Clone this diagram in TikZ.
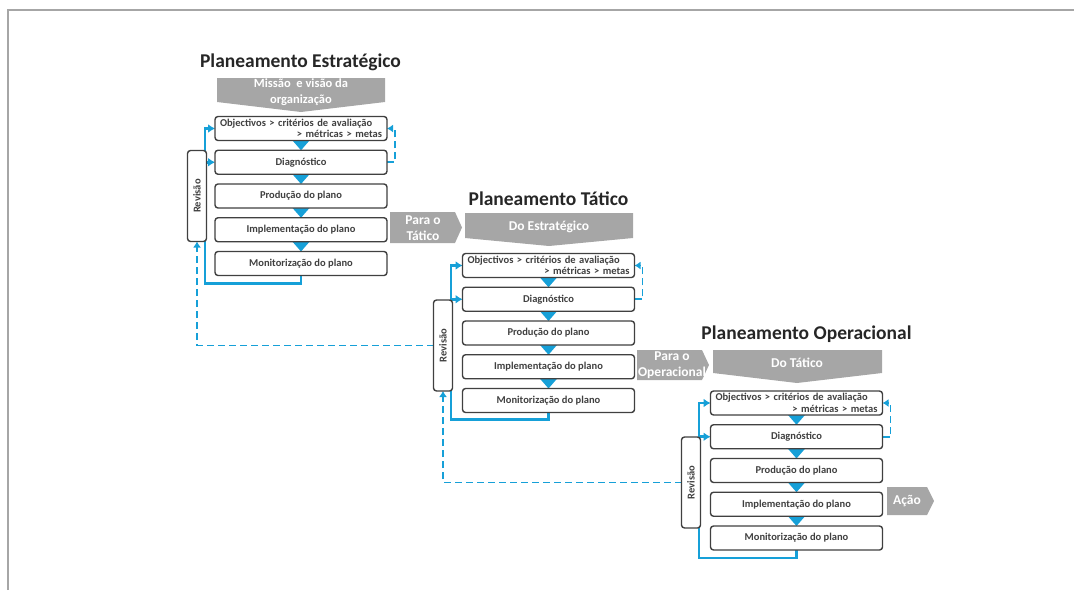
\documentclass[tikz,border=0pt]{standalone}
\usepackage{fontspec}
\setmainfont{Carlito}
\usepackage{graphicx}
\usetikzlibrary{positioning,backgrounds,arrows.meta}
\definecolor{azul}{RGB}{22,160,216}
\definecolor{cinza}{RGB}{166,166,166}
\definecolor{escuro}{RGB}{64,64,64}
\begin{document}
\begin{tikzpicture}[x=1pt,y=-1pt,node distance=9.75pt,every node/.style={inner sep=1pt}]
\tikzstyle{etapa}=[draw=escuro,line width=1.4pt,rounded corners=3pt,fill=white,outer sep=0pt,minimum width=172pt,minimum height=24pt,text=escuro,font=\fontsize{10.5}{11.5}\selectfont\bfseries]
\tikzstyle{revisao}=[etapa,minimum width=19pt,minimum height=91pt]
\tikzstyle{titulo}=[text=black!85,font=\fontsize{19.5}{22}\selectfont\bfseries]
\tikzstyle{rotulo}=[text=white,align=center,font=\fontsize{13.5}{16}\selectfont\bfseries]
\tikzstyle{fluxo}=[draw=azul,line width=2.7pt,-{Latex[length=7pt,width=9pt]}]
\tikzstyle{retorno}=[draw=azul,line width=1.7pt,dash pattern=on 7pt off 4pt,-{Latex[length=6pt,width=8pt]}]
\useasboundingbox (0,0) rectangle (1074,590);
\draw[cinza,line width=1.5pt] (8,590) -- (8,10) -- (1074,10);

% estrategico
\node[titulo](t1) at (300.5,62){Planeamento Estratégico};
\fill[cinza] (217,78) -- (385,78) -- (385,102) -- (301,112) -- (217,102) -- cycle;
\node[rotulo,font=\fontsize{12.5}{16}\selectfont\bfseries](g1) at (301,92){Missão~ e visão da\\organização};
\node[etapa,text width=162pt,align=left](n11) at (301,128.5){Objectivos > critérios de avaliação\\\hspace*{0pt plus 1fill}> métricas > metas};
\node[etapa,below=of n11](n12){Diagnóstico};
\node[etapa,below=of n12](n13){Produção do plano};
\node[etapa,below=of n13](n14){Implementação do plano};
\node[etapa,below=of n14](n15){Monitorização do plano};
\node[revisao](r1) at (197,196){\rotatebox{90}{Revisão}};
\fill[cinza] (390,212) -- (455,212) -- (462,227.5) -- (455,243) -- (390,243) -- cycle;
\node[rotulo](p1) at (423,228){Para o\\Tático};

% tatico
\node[titulo](t2) at (548.5,199){Planeamento Tático};
\fill[cinza] (465,213) -- (633,213) -- (633,238) -- (549,246) -- (465,238) -- cycle;
\node[rotulo](g2) at (549,227){Do Estratégico};
\node[etapa,text width=162pt,align=left](n21) at (548.5,265.5){Objectivos > critérios de avaliação\\\hspace*{0pt plus 1fill}> métricas > metas};
\node[etapa,below=of n21](n22){Diagnóstico};
\node[etapa,below=of n22](n23){Produção do plano};
\node[etapa,below=of n23](n24){Implementação do plano};
\node[etapa,below=of n24](n25){Monitorização do plano};
\node[revisao](r2) at (443,345.5){\rotatebox{90}{Revisão}};
\fill[cinza] (637,350) -- (702,350) -- (709,365) -- (702,380) -- (637,380) -- cycle;
\node[rotulo](p2) at (672,365){Para o\\Operacional};

% operacional
\node[titulo](t3) at (806.5,334){Planeamento Operacional};
\fill[cinza] (713,350) -- (882,350) -- (882,373) -- (797,383) -- (713,373) -- cycle;
\node[rotulo](g3) at (797,363){Do Tático};
\node[etapa,text width=162pt,align=left](n31) at (796.5,403){Objectivos > critérios de avaliação\\\hspace*{0pt plus 1fill}> métricas > metas};
\node[etapa,below=of n31](n32){Diagnóstico};
\node[etapa,below=of n32](n33){Produção do plano};
\node[etapa,below=of n33](n34){Implementação do plano};
\node[etapa,below=of n34](n35){Monitorização do plano};
\node[revisao](r3) at (691,482.5){\rotatebox{90}{Revisão}};
\fill[cinza] (887,487) -- (927,487) -- (934,501) -- (927,515) -- (887,515) -- cycle;
\node[rotulo](p3) at (907,501){Ação};

% ligacoes
\begin{scope}[on background layer]
\fill[azul] ([xshift=-8.5pt]n11.south) -- ([xshift=8.5pt]n11.south) -- (n12.north) -- cycle;
\fill[azul] ([xshift=-8.5pt]n12.south) -- ([xshift=8.5pt]n12.south) -- (n13.north) -- cycle;
\fill[azul] ([xshift=-8.5pt]n13.south) -- ([xshift=8.5pt]n13.south) -- (n14.north) -- cycle;
\fill[azul] ([xshift=-8.5pt]n14.south) -- ([xshift=8.5pt]n14.south) -- (n15.north) -- cycle;
\fill[azul] ([xshift=-8.5pt]n21.south) -- ([xshift=8.5pt]n21.south) -- (n22.north) -- cycle;
\fill[azul] ([xshift=-8.5pt]n22.south) -- ([xshift=8.5pt]n22.south) -- (n23.north) -- cycle;
\fill[azul] ([xshift=-8.5pt]n23.south) -- ([xshift=8.5pt]n23.south) -- (n24.north) -- cycle;
\fill[azul] ([xshift=-8.5pt]n24.south) -- ([xshift=8.5pt]n24.south) -- (n25.north) -- cycle;
\fill[azul] ([xshift=-8.5pt]n31.south) -- ([xshift=8.5pt]n31.south) -- (n32.north) -- cycle;
\fill[azul] ([xshift=-8.5pt]n32.south) -- ([xshift=8.5pt]n32.south) -- (n33.north) -- cycle;
\fill[azul] ([xshift=-8.5pt]n33.south) -- ([xshift=8.5pt]n33.south) -- (n34.north) -- cycle;
\fill[azul] ([xshift=-8.5pt]n34.south) -- ([xshift=8.5pt]n34.south) -- (n35.north) -- cycle;

\draw[fluxo] (n15.south) -- ++(0,8) -| ([xshift=-1.5pt]r1.east) |- (n11.west);
\draw[fluxo] ([xshift=-1.5pt]r1.east |- n12.west) -- (n12.west);
\draw[retorno] (n12.east) -- ++(8,0) |- (n11.east);
\draw[fluxo] (n25.south) -- ++(0,7) -| ([xshift=-1.5pt]r2.east) |- (n21.west);
\draw[fluxo] ([xshift=-1.5pt]r2.east |- n22.west) -- (n22.west);
\draw[retorno] (n22.east) -- ++(8,0) |- (n21.east);
\draw[fluxo] (n35.south) -- ++(0,8) -| ([xshift=-1.5pt]r3.east) |- (n31.west);
\draw[fluxo] ([xshift=-1.5pt]r3.east |- n32.west) -- (n32.west);
\draw[retorno] (n32.east) -- ++(8,0) |- (n31.east);

\draw[retorno] (r2.west) -| (r1.south);
\draw[retorno] (r3.west) -| (r2.south);
\end{scope}
\end{tikzpicture}
\end{document}
